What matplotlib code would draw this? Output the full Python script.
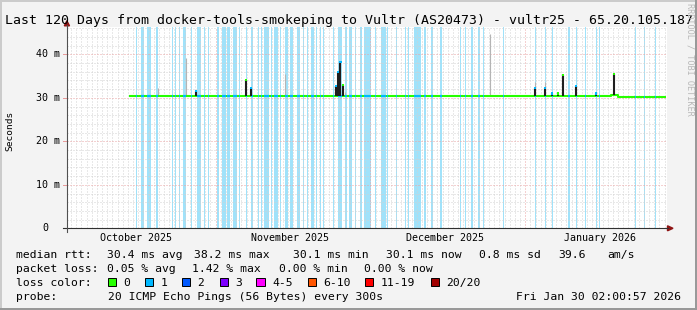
import matplotlib
matplotlib.use('Agg')
import numpy as np
import matplotlib.pyplot as plt
from matplotlib.lines import Line2D
from matplotlib.patches import Rectangle, Polygon
from matplotlib.transforms import blended_transform_factory

# ---------------- data ----------------
title = "Last 120 Days from docker-tools-smokeping to Vultr (AS20473) - vultr25 - 65.20.105.187"

# x in days from the left edge of the plot
month_labels = ["October 2025", "November 2025", "December 2025", "January 2026"]
month_label_pos = [13.3, 43.3, 73.3, 103.3]
month_major_pos = [28.8, 58.8, 88.8]

y_ticks = [0, 10, 20, 30, 40]
y_tick_labels = ["0", "10 m", "20 m", "30 m", "40 m"]

# median rtt (ms), step series
med_day = [12.0, 105.5, 106.8, 116.1]
med_ms = [30.4, 30.6, 30.15, 30.15]

# periods with 1/20 packet loss (start, end in days)
loss_start = [13.31, 14.28, 15.56, 17.19, 20.29, 20.93, 21.71, 22.42, 23.97, 25.14, 26.55, 27.38,
              29.13, 30.10, 31.01, 32.23, 33.33, 34.63, 35.66, 37.07, 37.60, 38.18, 39.48, 40.17,
              41.28, 42.25, 43.22, 44.63, 45.79, 46.45, 47.29, 48.26, 49.03, 49.67, 51.61, 52.46,
              53.88, 54.71, 55.81, 56.78, 57.62, 59.69, 60.79, 62.07, 63.76, 65.50, 66.03, 67.25,
              69.24, 70.48, 72.29, 76.16, 77.07, 78.24, 79.71, 80.68, 84.55, 90.70, 92.64, 94.05,
              97.15, 98.64, 100.39, 102.58, 103.04, 110.08, 111.88, 114.00]
loss_end = [13.57, 14.92, 16.22, 17.69, 20.48, 21.22, 21.90, 23.06, 24.17, 25.91, 26.74, 27.58,
            29.40, 30.81, 31.65, 33.00, 33.53, 34.88, 36.05, 37.27, 37.85, 39.21, 39.67, 40.95,
            41.41, 42.89, 43.86, 45.10, 45.99, 46.65, 47.81, 48.51, 49.22, 49.86, 51.80, 53.35,
            54.21, 55.29, 56.01, 57.23, 58.86, 59.88, 61.76, 62.27, 63.95, 65.70, 66.28, 68.60,
            69.52, 70.93, 72.62, 76.36, 77.27, 78.74, 80.04, 80.87, 84.75, 90.95, 92.83, 94.24,
            97.48, 98.84, 100.58, 102.77, 103.29, 110.27, 112.07, 114.20]

# dark smoke spikes
spike_day = [25.06, 34.63, 35.60, 52.07, 52.58, 53.00, 53.43, 90.64, 92.58, 93.93, 95.10,
             96.07, 98.60, 102.50, 105.95]
spike_top = [31.6, 34.1, 32.2, 32.7, 36.0, 38.3, 33.0, 32.2, 32.2, 31.0, 31.0, 35.2, 32.8,
             31.0, 35.5]
spike_loss = [1, 0, 1, 1, 1, 1, 0, 1, 1, 1, 0, 0, 1, 1, 0]

# light smoke (outlier pings)
smoke_day = [17.64, 23.06, 42.31, 53.88, 82.0, 90.64, 92.58]
smoke_top = [32.2, 39.1, 35.4, 31.4, 44.7, 33.7, 33.7]

loss_names = ["0", "1", "2", "3", "4-5", "6-10", "11-19", "20/20"]
loss_colors = ["#26ff00", "#00b8ff", "#0059ff", "#7e00ff", "#ff00ff", "#ff5500", "#ff0000", "#a10000"]

stats_rtt = [("median rtt:", 16), ("30.4 ms avg", 107), ("38.2 ms max", 194), ("30.1 ms min", 293),
             ("30.1 ms now", 386), ("0.8 ms sd", 479), ("39.6", 558), ("am/s", 607)]
stats_loss = [("packet loss:", 16), ("0.05 % avg", 107), ("1.42 % max", 192),
              ("0.00 % min", 279), ("0.00 % now", 364)]
probe_text = "20 ICMP Echo Pings (56 Bytes) every 300s"
date_text = "Fri Jan 30 02:00:57 2026"

# ---------------- drawing ----------------
W, H = 697, 310
MONO = "DejaVu Sans Mono"
fig = plt.figure(figsize=(W / 100, H / 100), dpi=100, facecolor="#f3f3f3")


def fx(px):
    return px / W


def fy(py):
    return 1 - py / H


PL, PR, PT, PB = 67, 667, 27, 228.3
ax = fig.add_axes([fx(PL), fy(PB), (PR - PL) / W, (PB - PT) / H])
XMAX, YMAX = 116.28, 46.28
ax.set_xlim(0, XMAX)
ax.set_ylim(0, YMAX)
ax.set_facecolor("white")
for s in ax.spines.values():
    s.set_visible(False)
ax.set_yticks([])

# loss background bands
for s0, e0 in zip(loss_start, loss_end):
    ax.axvspan(s0, e0, color="#a0e2fa", lw=0, zorder=1, antialiased=False)

# grid
minor_x = [v for v in np.arange(0.8, XMAX, 1.0) if min(abs(v - m) for m in month_major_pos) > 0.3]
minor_y = [v for v in np.arange(2, YMAX, 2) if v % 10 != 0]
dot = (0, (1, 2))
ax.vlines(minor_x, 0, YMAX, colors="#d2d2d2", linestyles=dot, lw=0.72, zorder=2)
ax.hlines(minor_y, 0, XMAX, colors="#d2d2d2", linestyles=dot, lw=0.72, zorder=2)
ax.vlines(month_major_pos, 0, YMAX, colors="#eaa4a4", linestyles=dot, lw=0.72, zorder=2)
ax.hlines([10, 20, 30, 40], 0, XMAX, colors="#eaa4a4", linestyles=dot, lw=0.72, zorder=2)


def level_at(d):
    i = np.searchsorted(med_day, d, side="right") - 1
    i = min(max(i, 0), len(med_ms) - 1)
    return med_ms[i]


# light smoke
ax.vlines(smoke_day, [level_at(d) for d in smoke_day], smoke_top, colors="#b4b4b4", lw=0.8, zorder=3)

# median line
ax.step(med_day, med_ms, where="post", color=loss_colors[0], lw=1.5, zorder=4, solid_capstyle="butt")
for s0, e0 in zip(loss_start, loss_end):
    if e0 < med_day[0] or s0 > med_day[-1]:
        continue
    ax.hlines(level_at((s0 + e0) / 2), max(s0, med_day[0]), min(e0, med_day[-1]),
              colors=loss_colors[1], lw=1.5, zorder=5)

# dark smoke spikes
ax.vlines(spike_day, [level_at(d) for d in spike_day], spike_top, colors="#1e1e1e", lw=1.5, zorder=6)
ax.scatter(spike_day, spike_top, marker="s", s=2.5, c=[loss_colors[k] for k in spike_loss],
           linewidths=0, zorder=7)

# x tick labels
ax.set_xticks(month_label_pos)
ax.set_xticklabels(month_labels, fontsize=7.2, family=MONO)
ax.tick_params(axis="x", length=0, pad=3.4)

# y tick labels (manual right-aligned, monospace)
btr = blended_transform_factory(ax.transAxes, ax.transData)
cw = 0.602 * 10.0
for v, lab in zip(y_ticks, y_tick_labels):
    off = 7 if lab != "0" else 7 + 2 * cw
    ax.text(-off / (PR - PL), v, lab, transform=btr, ha="right", va="center",
            fontsize=7.2, family=MONO)
    ax.plot([-4 / (PR - PL), 0], [v, v], transform=btr, clip_on=False,
            color="#e89a9a" if v else "#404040", lw=0.72)

# axes lines and arrows
fig.add_artist(Line2D([fx(63), fx(668)], [fy(228.3), fy(228.3)], color="#303030", lw=0.8))
fig.add_artist(Line2D([fx(67), fx(67)], [fy(232), fy(25)], color="#505050", lw=0.8))
fig.add_artist(Polygon([[fx(64.3), fy(25.8)], [fx(69.5), fy(25.8)], [fx(66.9), fy(20.8)]],
                       closed=True, color="#8e1414"))
fig.add_artist(Polygon([[fx(667.5), fy(225.8)], [fx(667.5), fy(230.8)], [fx(673), fy(228.3)]],
                       closed=True, color="#8e1414"))

# title, ylabel, watermark
fig.text(fx(5), fy(24.3), title, fontsize=9.5, family=MONO, ha="left", va="baseline")
fig.text(fx(10), fy(131), "Seconds", rotation=90, fontsize=6.8, family=MONO, ha="center", va="center")
fig.text(fx(690), fy(3), "RRDTOOL / TOBI OETIKER", rotation=270, fontsize=6.1, family=MONO,
         color="#b8b8b8", ha="center", va="top")

# legend rows
FS = 8.2
for txt, x in stats_rtt:
    fig.text(fx(x), fy(258), txt, fontsize=FS, family=MONO, va="baseline")
for txt, x in stats_loss:
    fig.text(fx(x), fy(272), txt, fontsize=FS, family=MONO, va="baseline")
fig.text(fx(16), fy(286), "loss color:", fontsize=FS, family=MONO, va="baseline")
sq_x = [108, 145, 182, 219.6, 256.4, 307.6, 365, 431]
for name, col, x in zip(loss_names, loss_colors, sq_x):
    fig.add_artist(Rectangle((fx(x), fy(286.4)), 8.4 / W, 8.6 / H, transform=fig.transFigure,
                             facecolor=col, edgecolor="black", lw=0.7))
    fig.text(fx(x + 15.6), fy(286), name, fontsize=FS, family=MONO, va="baseline")
fig.text(fx(16), fy(300), "probe:", fontsize=FS, family=MONO, va="baseline")
fig.text(fx(108), fy(300), probe_text, fontsize=FS, family=MONO, va="baseline")
fig.text(fx(681), fy(300), date_text, fontsize=FS, family=MONO, va="baseline", ha="right")

# frame shading
fig.add_artist(Line2D([0, 1], [fy(0.7), fy(0.7)], color="#cbcbcb", lw=1.44))
fig.add_artist(Line2D([fx(0.7), fx(0.7)], [0, 1], color="#cbcbcb", lw=1.44))
fig.add_artist(Line2D([0, 1], [fy(H - 0.7), fy(H - 0.7)], color="#999999", lw=1.44))
fig.add_artist(Line2D([fx(W - 0.7), fx(W - 0.7)], [0, 1], color="#999999", lw=1.44))

fig.savefig("out.png", dpi=100, facecolor=fig.get_facecolor())
